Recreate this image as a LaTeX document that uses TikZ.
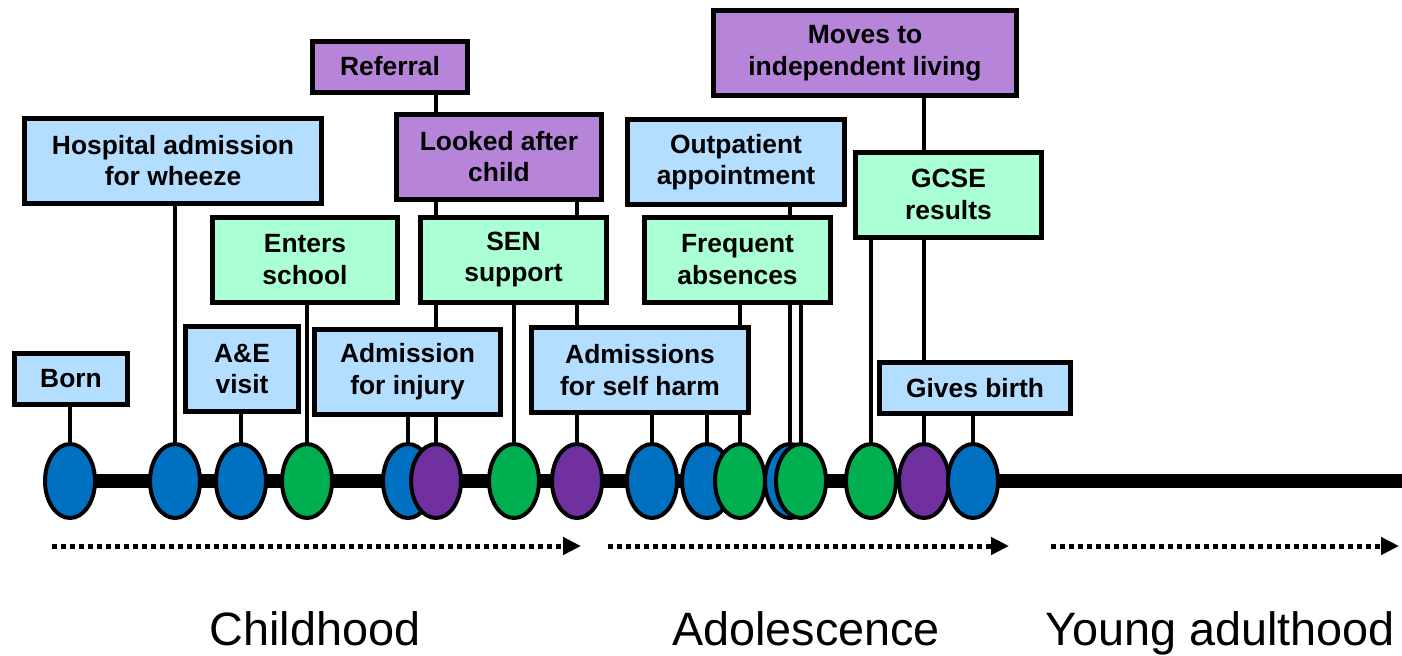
\documentclass[tikz,border=0pt]{standalone}
\usepackage{fontspec}
\setmainfont{Liberation Sans}
\usepackage{tikz}
\usetikzlibrary{shapes.geometric,arrows.meta,backgrounds}
\definecolor{evblue}{HTML}{0070C0}
\definecolor{evgreen}{HTML}{00B050}
\definecolor{evpurple}{HTML}{7030A0}
\definecolor{boxblue}{HTML}{B4DEFF}
\definecolor{boxgreen}{HTML}{ABFFD4}
\definecolor{boxpurple}{HTML}{B685DA}
\tikzset{evt/.style={ellipse,draw=black,line width=2pt,inner sep=0pt,minimum width=25pt,minimum height=37pt}}
\tikzset{box/.style={draw=black,line width=2.5pt,align=center,inner sep=0pt,font=\bfseries\fontsize{13.2}{15.8}\selectfont}}
\tikzset{link/.style={line width=1.6pt}}
\tikzset{phase/.style={line width=2.5pt,dash pattern=on 2.5pt off 2pt,-{Triangle[length=9pt,width=8.5pt]}}}

\begin{document}
\begin{tikzpicture}[x=0.5pt,y=-0.5pt]
        \useasboundingbox (0,0) rectangle (1402,655);
        \tikzstyle{short}=[minimum height=25.5pt]
        \tikzstyle{tall}=[minimum height=42.5pt]
        % events on the timeline
        \node[evt,fill=evblue] (e1) at (70,481) {};
        \node[evt,fill=evblue] (e2) at (175,481) {};
        \node[evt,fill=evblue] (e3) at (241,481) {};
        \node[evt,fill=evgreen] (e4) at (307,481) {};
        \node[evt,fill=evblue] (e5) at (408,481) {};
        \node[evt,fill=evpurple] (e6) at (436,481) {};
        \node[evt,fill=evgreen] (e7) at (514,481) {};
        \node[evt,fill=evpurple] (e8) at (577,481) {};
        \node[evt,fill=evblue] (e9) at (652,481) {};
        \node[evt,fill=evblue] (e10) at (707,481) {};
        \node[evt,fill=evgreen] (e11) at (740,481) {};
        \node[evt,fill=evblue] (e12) at (790,481) {};
        \node[evt,fill=evgreen] (e13) at (801,481) {};
        \node[evt,fill=evgreen] (e14) at (871,481) {};
        \node[evt,fill=evpurple] (e15) at (924,481) {};
        \node[evt,fill=evblue] (e16) at (973,481) {};
        \coordinate (tlend) at (1402,481);
        % labels
        \node[box,short,fill=boxblue,minimum width=56.5pt] (born) at (71,379) {Born};
        \node[box,tall,fill=boxblue,minimum width=56.5pt] (ae) at (242,369) {A\&E\\visit};
        \node[box,tall,fill=boxblue,minimum width=93pt] (injury) at (407.5,371.5) {Admission\\for injury};
        \node[box,tall,fill=boxblue,minimum width=108.5pt] (selfharm) at (640,370) {Admissions\\for self harm};
        \node[box,short,fill=boxblue,minimum width=95.5pt] (birth) at (975,388) {Gives birth};
        \node[box,tall,fill=boxblue,minimum width=148.5pt] (wheeze) at (173,160.5) {Hospital admission\\for wheeze};
        \node[box,tall,fill=boxgreen,minimum width=92.5pt] (school) at (305,259.5) {Enters\\school};
        \node[box,tall,fill=boxgreen,minimum width=93pt] (sen) at (513.5,259.5) {SEN\\support};
        \node[box,short,fill=boxpurple,minimum width=77.5pt] (referral) at (390,66.5) {Referral};
        \node[box,tall,fill=boxpurple,minimum width=102.5pt] (lac) at (499,156.5) {Looked after\\child};
        \node[box,tall,fill=boxblue,minimum width=108.5pt] (outpat) at (736,162) {Outpatient\\appointment};
        \node[box,tall,fill=boxgreen,minimum width=93pt] (absence) at (737.5,259.5) {Frequent\\absences};
        \node[box,tall,fill=boxgreen,minimum width=93pt] (gcse) at (948.5,194.5) {GCSE\\results};
        \node[box,tall,fill=boxpurple,minimum width=151.5pt] (moves) at (865,53) {Moves to\\independent living};
        \begin{scope}[on background layer]
        \draw[line width=7pt] (e1.center) -- (tlend);
        \foreach \e/\b in {e1/born,e2/wheeze,e3/ae,e4/school,e5/injury,e6/referral,e7/sen,e8/lac,
                e9/selfharm,e10/selfharm,e11/absence,e12/outpat,e13/absence,e14/gcse,e15/moves,e16/birth}
            \draw[link] (\e.north) -- (\e.north |- \b.south);
        \end{scope}
        % life stages
        \coordinate (c1s) at (52,546);
        \coordinate (c1e) at (581,546);
        \coordinate (c2s) at (608,546);
        \coordinate (c2e) at (1009,546);
        \coordinate (c3s) at (1051,546);
        \coordinate (c3e) at (1399,546);
        \draw[phase] (c1s) -- (c1e);
        \draw[phase] (c2s) -- (c2e);
        \draw[phase] (c3s) -- (c3e);
        \node[anchor=base,font=\fontsize{23.4}{28}\selectfont] (child) at (315,645) {Childhood};
        \node[anchor=base,font=\fontsize{23.4}{28}\selectfont] (adol) at (806,645) {Adolescence};
        \node[anchor=base,font=\fontsize{23.4}{28}\selectfont] (young) at (1220,645) {Young adulthood};
\end{tikzpicture}
\end{document}
